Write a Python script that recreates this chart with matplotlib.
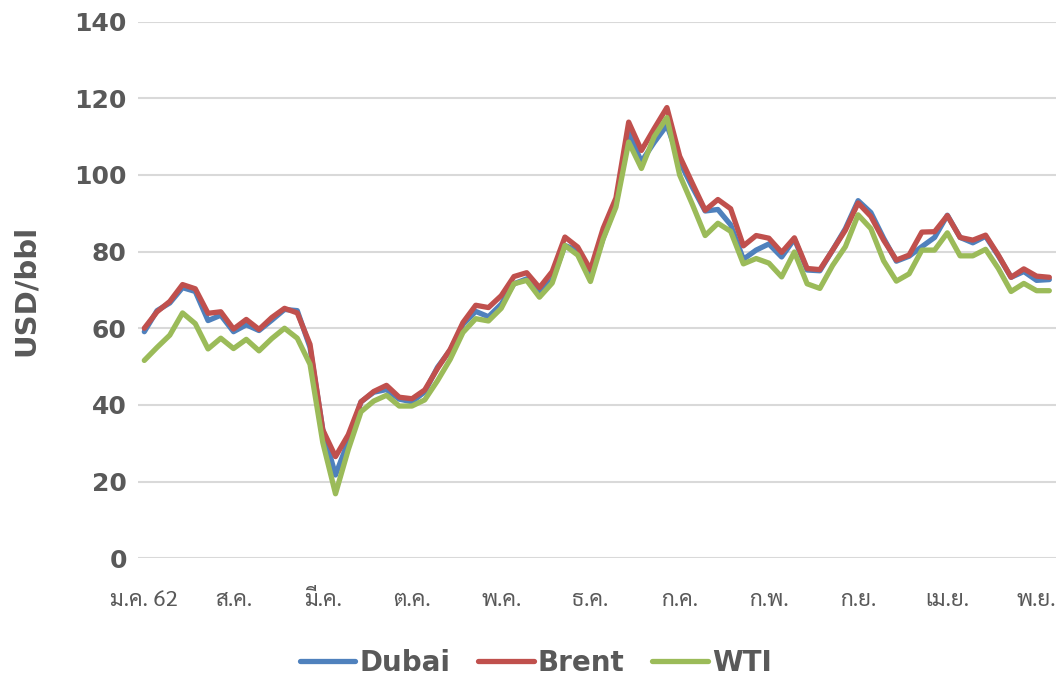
import matplotlib
matplotlib.use("Agg")
import matplotlib.pyplot as plt
from matplotlib import font_manager
from matplotlib.ft2font import FT2Font
import numpy as np

# ---------------- data ----------------
months = list(range(72))  # Jan 2019 .. Dec 2024
tick_labels = ["ม.ค. 62", "ส.ค.", "มี.ค.", "ต.ค.", "พ.ค.", "ธ.ค.",
               "ก.ค.", "ก.พ.", "ก.ย.", "เม.ย.", "พ.ย."]
tick_step = 7

dubai = [59.1, 64.6, 66.6, 70.6, 69.6, 62.0, 63.4, 59.1, 60.9, 59.4, 62.1, 64.9,
         64.6, 55.0, 33.6, 21.7, 30.5, 40.8, 43.3, 44.0, 41.5, 40.8, 43.4, 49.8,
         54.3, 61.0, 64.4, 63.0, 66.3, 71.6, 72.9, 69.5, 72.6, 81.6, 80.3, 73.5,
         83.5, 92.4, 110.9, 103.5, 108.5, 113.0, 103.5, 96.8, 90.6, 91.0, 87.0, 78.0,
         80.4, 82.0, 78.6, 83.3, 75.2, 75.0, 80.4, 86.0, 93.3, 90.2, 83.5, 77.5,
         78.8, 81.3, 83.7, 89.5, 83.7, 82.3, 84.0, 78.9, 73.3, 74.8, 72.5, 72.7]

brent = [60.0, 64.3, 67.0, 71.4, 70.3, 63.9, 64.3, 59.8, 62.3, 59.7, 62.8, 65.2,
         64.0, 55.8, 33.5, 26.5, 32.2, 40.8, 43.5, 45.1, 42.0, 41.6, 43.9, 49.5,
         54.5, 61.5, 66.0, 65.4, 68.5, 73.5, 74.5, 70.6, 74.8, 83.8, 81.2, 75.3,
         86.1, 94.0, 113.8, 106.4, 112.1, 117.6, 104.9, 97.8, 90.8, 93.6, 91.2, 81.5,
         84.2, 83.5, 79.8, 83.6, 75.6, 75.3, 80.4, 85.6, 92.7, 89.2, 83.0, 77.8,
         79.1, 85.1, 85.2, 89.4, 83.7, 83.0, 84.3, 79.1, 73.3, 75.5, 73.6, 73.3]

wti = [51.6, 55.0, 58.2, 64.0, 61.2, 54.6, 57.4, 54.7, 57.1, 54.1, 57.3, 60.0,
       57.4, 50.6, 30.2, 16.8, 28.3, 38.2, 41.0, 42.5, 39.7, 39.7, 41.3, 46.3,
       51.9, 58.9, 62.5, 61.9, 65.2, 71.6, 72.5, 68.1, 71.8, 81.6, 79.1, 72.2,
       83.3, 91.6, 108.6, 101.7, 110.0, 115.0, 100.0, 92.3, 84.2, 87.4, 85.3, 76.8,
       78.2, 77.0, 73.4, 79.9, 71.6, 70.4, 76.4, 81.3, 89.6, 86.0, 77.6, 72.3,
       74.2, 80.4, 80.4, 84.9, 78.9, 78.9, 80.6, 75.6, 69.6, 71.7, 69.8, 69.8]

series_names = ["Dubai", "Brent", "WTI"]
series_colors = ["#4F81BD", "#C0504D", "#9BBB59"]
y_ticks = [0, 20, 40, 60, 80, 100, 120, 140]

# ---------------- fonts ----------------
def thai_font():
    prefs = ["Tahoma", "Sarabun", "Noto Sans Thai Looped", "Noto Sans Thai",
             "Prompt", "Kanit"]
    names = {f.name for f in font_manager.fontManager.ttflist}
    for p in prefs:
        if p in names:
            return p
    for f in font_manager.fontManager.ttflist:
        try:
            if 0x0E21 in FT2Font(f.fname).get_charmap():
                return f.name
        except Exception:
            pass
    return "DejaVu Sans"

THAI = thai_font()
GRAY = "#595959"

# ---------------- plot ----------------
fig = plt.figure(figsize=(10.61, 6.79), dpi=100)
ax = fig.add_axes([0.130, 0.178, 0.865, 0.790])

for vals, name, col in zip([dubai, brent, wti], series_names, series_colors):
    ax.plot(months, vals, color=col, lw=3.8, label=name,
            solid_capstyle="round", solid_joinstyle="round")

ax.set_xlim(-0.5, len(months) - 0.5)
ax.set_ylim(0, 140)
ax.set_yticks(y_ticks)
ax.set_yticklabels([str(v) for v in y_ticks], fontsize=18, fontweight="bold",
                   color=GRAY, family=["DejaVu Sans"])
ax.set_xticks(months[::tick_step])
ax.set_xticklabels(tick_labels, fontsize=16, color=GRAY, family=[THAI, "DejaVu Sans"])
ax.tick_params(axis="both", length=0)
ax.tick_params(axis="y", pad=8)
ax.tick_params(axis="x", pad=23)
ax.grid(axis="y", color="#D9D9D9", lw=1.5)
ax.set_axisbelow(True)
for s in ax.spines.values():
    s.set_visible(False)

ax.set_ylabel("USD/bbl", fontsize=21, fontweight="bold", color=GRAY, labelpad=25)

leg = fig.legend(loc="center", bbox_to_anchor=(0.505, 0.024), ncol=3, frameon=False,
                 prop={"size": 20, "weight": "bold"}, handlelength=2.0,
                 handletextpad=0.15, columnspacing=1.0, labelcolor=GRAY)
for h in leg.get_lines():
    h.set_linewidth(3.8)
    h.set_solid_capstyle("round")

fig.savefig("out.png", dpi=100)
